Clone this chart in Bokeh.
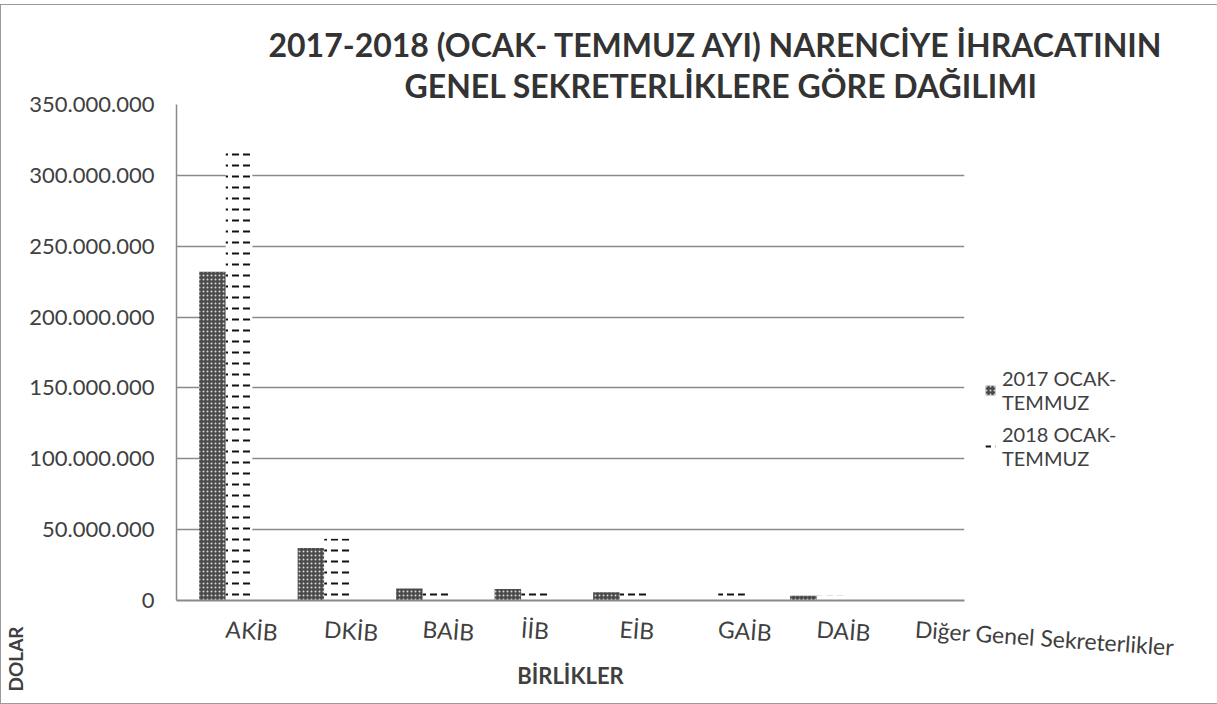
from bokeh.plotting import figure
from bokeh.models import (FactorRange, Range1d, FixedTicker, Title, Legend, LegendItem, ColumnDataSource)
from bokeh.transform import dodge
from bokeh.embed import file_html
from bokeh.resources import INLINE

categories = ["AKİB", "DKİB", "BAİB", "İİB", "EİB", "GAİB", "DAİB", "Diğer Genel Sekreterlikler"]
series_2017 = [232e6, 37e6, 8.5e6, 8.2e6, 5.8e6, 0.0, 3.3e6, 0.0]
series_2018 = [320e6, 43.5e6, 9.0e6, 9.0e6, 8.8e6, 8.5e6, 3.3e6, 2.5e6]
series_names = ["2017 OCAK-\nTEMMUZ", "2018 OCAK-\nTEMMUZ"]
y_ticks = [0, 50e6, 100e6, 150e6, 200e6, 250e6, 300e6, 350e6]
y_tick_labels = ["0", "50.000.000", "100.000.000", "150.000.000", "200.000.000",
                 "250.000.000", "300.000.000", "350.000.000"]
title_lines = ["2017-2018 (OCAK- TEMMUZ AYI) NARENCİYE İHRACATININ",
               "GENEL SEKRETERLİKLERE  GÖRE DAĞILIMI"]
x_title = "BİRLİKLER"
y_title = "DOLAR"

FONT = "Lato"
TXT = "#404040"
GRID = "#8a8a8a"
FW, FH = 788, 496

src = ColumnDataSource(dict(cat=categories, v17=series_2017, v18=series_2018))

p = figure(x_range=FactorRange(*categories, range_padding=0), y_range=Range1d(0, 350e6),
           frame_width=FW, frame_height=FH, output_backend="svg", toolbar_location=None,
           min_border_left=168, min_border_right=252, min_border_top=99, min_border_bottom=103)
p.styles = {"border": "1px solid #9a9a9a", "margin-left": "0px", "margin-top": "4px"}
p.outline_line_color = None
p.background_fill_color = "white"
p.border_fill_color = "white"

r17 = p.vbar(x=dodge("cat", -0.135, range=p.x_range), top="v17", width=0.27, source=src,
             fill_color="#4a4a4a", line_color=None,
             hatch_pattern="dot", hatch_color="#d8d8d8", hatch_scale=4, hatch_weight=1.2)
r18 = p.vbar(x=dodge("cat", 0.135, range=p.x_range), top="v18", width=0.27, source=src,
             fill_color="white", line_color=None,
             hatch_pattern="horizontal_dash", hatch_color="#111111", hatch_scale=11, hatch_weight=2)

p.yaxis.ticker = FixedTicker(ticks=y_ticks)
p.yaxis.major_label_overrides = {t: l for t, l in zip(y_ticks, y_tick_labels)}
p.yaxis.major_tick_line_color = None
p.yaxis.minor_tick_line_color = None
p.yaxis.axis_line_color = GRID
p.yaxis.axis_line_width = 1.5
p.yaxis.major_label_text_font = FONT
p.yaxis.major_label_text_font_size = "22px"
p.yaxis.major_label_text_color = TXT
p.yaxis.major_label_standoff = 16

p.xaxis.major_tick_line_color = None
p.xaxis.axis_line_color = GRID
p.xaxis.axis_line_width = 2
p.xaxis.major_label_text_font = FONT
p.xaxis.major_label_text_font_size = "23px"
p.xaxis.major_label_text_color = TXT
p.xaxis.major_label_standoff = 22
p.xaxis.major_label_orientation = -0.07
p.xaxis.axis_label = x_title
p.xaxis.axis_label_text_font = FONT
p.xaxis.axis_label_text_font_style = "bold"
p.xaxis.axis_label_text_font_size = "22px"
p.xaxis.axis_label_text_color = TXT
p.xaxis.axis_label_standoff = -16

p.xgrid.grid_line_color = None
p.ygrid.grid_line_color = GRID
p.ygrid.grid_line_width = 1.5

# title: line 2 closest to the frame, line 1 above it
for line, off in ((title_lines[1], 228), (title_lines[0], 92)):
    p.add_layout(Title(text=line, align="left", offset=off, standoff=0,
                       text_font=FONT, text_font_style="bold", text_font_size="32px",
                       text_color="#333333"), "above")

p.add_layout(Title(text=y_title, align="left", offset=-91, standoff=0,
                   text_font=FONT, text_font_style="bold", text_font_size="19px",
                   text_color=TXT), "left")

legend = Legend(items=[LegendItem(label=series_names[0], renderers=[r17]),
                       LegendItem(label=series_names[1], renderers=[r18])],
                location=(20, 130), border_line_color=None, background_fill_alpha=0,
                label_text_font=FONT, label_text_font_size="20px", label_text_color=TXT,
                glyph_width=12, glyph_height=12, spacing=8, label_standoff=6)
p.add_layout(legend, "right")

open("out.html", "w").write(file_html(p, INLINE))
